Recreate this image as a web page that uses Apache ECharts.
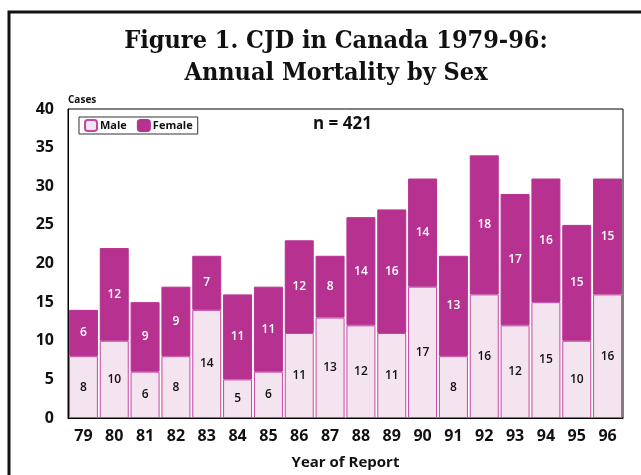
<!DOCTYPE html>
<html>
<head>
<meta charset="utf-8">
<script src="https://cdn.jsdelivr.net/npm/echarts@6/dist/echarts.min.js"></script>
<style>
  html, body { margin: 0; padding: 0; background: #fff; }
  #main { width: 641px; height: 475px; }
</style>
</head>
<body>
<div id="main"></div>
<script>
// data
const years = ["79", "80", "81", "82", "83", "84", "85", "86", "87", "88", "89", "90", "91", "92", "93", "94", "95", "96"];
const male = [8, 10, 6, 8, 14, 5, 6, 11, 13, 12, 11, 17, 8, 16, 12, 15, 10, 16];
const female = [6, 12, 9, 9, 7, 11, 11, 12, 8, 14, 16, 14, 13, 18, 17, 16, 15, 15];
const totalText = "n = 421";

const sans = "'Open Sans', 'Noto Sans', sans-serif";
const maleColor = "#f4e4ef";
const femaleColor = "#b73290";
const edge = "#c447a3";

const chart = echarts.init(document.getElementById("main"));
const option = {
	animation: false,
	title: {
		text: "Figure 1. CJD in Canada 1979-96:\nAnnual Mortality by Sex",
		left: 331,
		textAlign: "center",
		top: 20,
		textStyle: {
			fontFamily: "'DejaVu Serif Condensed', 'DejaVu Serif', serif",
			fontSize: 25,
			fontWeight: "bold",
			lineHeight: 32,
			color: "#111"
		}
	},
	legend: {
		left: 79,
		top: 117,
		itemWidth: 12,
		itemHeight: 11,
		itemGap: 10,
		padding: [2, 5],
		borderColor: "#333",
		borderWidth: 1,
		textStyle: { fontFamily: sans, fontSize: 11, fontWeight: "bold", color: "#111", padding: [0, 0, 0, -2] },
		data: ["Male", "Female"]
	},
	grid: {
		left: 68, right: 18, top: 109, bottom: 56,
		show: true, borderColor: "#000", borderWidth: 1
	},
	xAxis: {
		type: "category",
		data: years,
		name: "Year of Report",
		nameLocation: "middle",
		nameGap: 37,
		nameTextStyle: { fontFamily: sans, fontSize: 15, fontWeight: "bold", color: "#111" },
		axisLine: { lineStyle: { color: "#000" } },
		axisTick: { show: false },
		axisLabel: { fontFamily: sans, fontSize: 16, fontWeight: "bold", color: "#111", margin: 10 }
	},
	yAxis: {
		type: "value",
		min: 0, max: 40, interval: 5,
		name: "Cases",
		nameLocation: "end",
		nameGap: 4,
		nameTextStyle: { fontFamily: sans, fontSize: 10, fontWeight: "bold", color: "#111", align: "left" },
		axisLine: { show: true, lineStyle: { color: "#000" } },
		axisTick: { show: false },
		splitLine: { show: false },
		axisLabel: { fontFamily: sans, fontSize: 16, fontWeight: "bold", color: "#111", margin: 14 }
	},
	series: [
		{
			name: "Male",
			type: "bar",
			stack: "all",
			barCategoryGap: "6%",
			data: male,
			itemStyle: { color: maleColor, borderColor: edge, borderWidth: 1 },
			label: { show: true, position: "inside", fontFamily: sans, fontSize: 12, fontWeight: 600, color: "#111" }
		},
		{
			name: "Female",
			type: "bar",
			stack: "all",
			data: female,
			itemStyle: { color: femaleColor, borderColor: femaleColor, borderWidth: 1 },
			label: { show: true, position: "inside", fontFamily: sans, fontSize: 12, fontWeight: 600, color: "#fff" }
		}
	],
	graphic: [
		{
			type: "polyline",
			shape: { points: [[9, 475], [9, 12], [641, 12]] },
			style: { stroke: "#111", lineWidth: 3, fill: null }
		},
		{
			type: "text",
			left: 313,
			top: 116,
			style: { text: totalText, fontFamily: sans, fontSize: 17, fontWeight: "bold", fill: "#111" }
		}
	]
};
chart.setOption(option);
</script>
</body>
</html>
